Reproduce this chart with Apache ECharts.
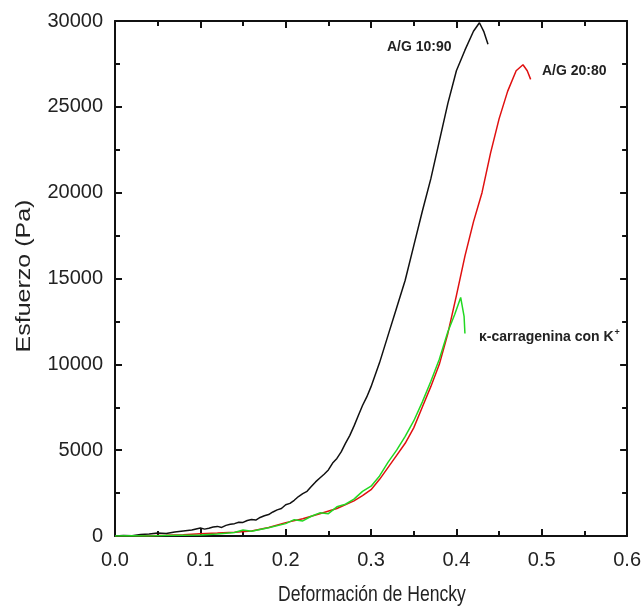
<!DOCTYPE html>
<html>
<head>
<meta charset="utf-8">
<script src="https://cdn.jsdelivr.net/npm/echarts@6/dist/echarts.min.js"></script>
<style>
    html, body { margin: 0; padding: 0; background: #fff; }
    #chart { width: 644px; height: 608px; }
</style>
</head>
<body>
<div id="chart"></div>
<script>
// A/G 10:90 (negro)
var blackStrain = [0, 0.01, 0.02, 0.03, 0.04, 0.05, 0.06, 0.07, 0.08, 0.09,
    0.1, 0.105, 0.11, 0.115, 0.12, 0.125, 0.13, 0.135, 0.14, 0.145, 0.15, 0.155, 0.16, 0.165, 0.17, 0.175, 0.18, 0.185, 0.19, 0.195,
    0.2, 0.205, 0.21, 0.215, 0.22, 0.225, 0.23, 0.235, 0.24, 0.245, 0.25, 0.255, 0.26, 0.265, 0.27, 0.275, 0.28, 0.285, 0.29, 0.295,
    0.3, 0.31, 0.32, 0.33, 0.34, 0.35, 0.36, 0.37, 0.38, 0.39,
    0.4, 0.41, 0.42, 0.427, 0.432, 0.437];
var blackStress = [0, 30, 20, 90, 110, 170, 140, 230, 290, 350,
    470, 400, 450, 520, 560, 500, 620, 680, 720, 800, 790, 900, 960, 930, 1080, 1180, 1250, 1400, 1520, 1600,
    1820, 1900, 2080, 2300, 2470, 2600, 2880, 3150, 3380, 3600, 3850, 4250, 4520, 4900, 5400, 5850, 6400, 7000, 7600, 8100,
    8700, 10100, 11700, 13300, 14900, 16900, 18900, 20800, 23000, 25200,
    27100, 28300, 29400, 29900, 29400, 28650];

// A/G 20:80 (rojo)
var redStrain = [0, 0.02, 0.04, 0.06, 0.08, 0.1, 0.12, 0.14, 0.16, 0.18, 0.2, 0.22, 0.24, 0.26, 0.28, 0.29,
    0.3, 0.31, 0.32, 0.33, 0.34, 0.35, 0.36, 0.37, 0.38, 0.39, 0.4, 0.41, 0.42, 0.43, 0.44, 0.45, 0.46, 0.47, 0.478, 0.483, 0.487];
var redStress = [0, 10, 20, 40, 80, 130, 170, 220, 290, 500, 780, 1000, 1300, 1600, 2050, 2350,
    2700, 3300, 4000, 4700, 5400, 6300, 7500, 8700, 10000, 11800, 14000, 16300, 18300, 20000, 22300, 24300, 25900, 27100, 27450, 27100, 26600];

// κ-carragenina con K+ (verde)
var greenStrain = [0, 0.02, 0.04, 0.06, 0.08, 0.1, 0.12, 0.14, 0.15, 0.16, 0.18, 0.2, 0.21, 0.22, 0.23, 0.24, 0.25, 0.26, 0.27, 0.28, 0.29,
    0.3, 0.31, 0.32, 0.33, 0.34, 0.35, 0.36, 0.37, 0.38, 0.39, 0.398, 0.405, 0.407, 0.409, 0.41];
var greenStress = [0, 10, 0, 30, 50, 60, 120, 200, 350, 280, 480, 720, 950, 880, 1150, 1350, 1300, 1700, 1850, 2150, 2600,
    2900, 3500, 4300, 5000, 5800, 6700, 7800, 9000, 10300, 11900, 12900, 13900, 14000, 12800, 11800];

var xTicks = [0, 0.1, 0.2, 0.3, 0.4, 0.5, 0.6];
var yTicks = [0, 5000, 10000, 15000, 20000, 25000, 30000];

function pairs(xs, ys) {
    var out = [];
    for (var i = 0; i < xs.length; i++) {
        out.push([xs[i], ys[i]]);
    }
    return out;
}

function $ext(a, b) {
    return Object.assign({}, a, b);
}

var myChart = echarts.init(document.getElementById('chart'), null, { renderer: 'canvas' });

var fontFam = '"Liberation Sans", Arial, sans-serif';
var baseX = {
    type: 'value',
    min: xTicks[0],
    max: xTicks[xTicks.length - 1],
    interval: 0.1,
    axisLine: { onZero: false, lineStyle: { color: '#111', width: 2 } },
    axisTick: { inside: true, length: 7, lineStyle: { color: '#111', width: 2 } },
    minorTick: { show: true, splitNumber: 2, length: 5, lineStyle: { color: '#111', width: 2 } },
    splitLine: { show: false }
};
var baseY = {
    type: 'value',
    min: yTicks[0],
    max: yTicks[yTicks.length - 1],
    interval: 5000,
    axisLine: { onZero: false, lineStyle: { color: '#111', width: 2 } },
    axisTick: { inside: true, length: 7, lineStyle: { color: '#111', width: 2 } },
    minorTick: { show: true, splitNumber: 2, length: 5, lineStyle: { color: '#111', width: 2 } },
    splitLine: { show: false }
};

var option = {
    backgroundColor: '#fff',
    animation: false,
    grid: { left: 115, right: 14, top: 21, bottom: 72 },
    xAxis: [
        $ext(baseX, {
            position: 'bottom',
            axisLabel: {
                margin: 14, fontFamily: fontFam, fontSize: 20, color: '#222',
                formatter: function (v) { return v.toFixed(1); }
            }
        }),
        $ext(baseX, { position: 'top', axisLabel: { show: false } })
    ],
    yAxis: [
        $ext(baseY, {
            position: 'left',
            axisLabel: {
                margin: 12, fontFamily: fontFam, fontSize: 20, color: '#222',
                formatter: function (v) { return String(v); }
            }
        }),
        $ext(baseY, { position: 'right', axisLabel: { show: false } })
    ],
    series: [
        {
            name: 'A/G 10:90', type: 'line', showSymbol: false, symbol: 'none',
            lineStyle: { color: '#111', width: 1.5 }, data: pairs(blackStrain, blackStress), z: 3
        },
        {
            name: 'A/G 20:80', type: 'line', showSymbol: false, symbol: 'none',
            lineStyle: { color: '#e01010', width: 1.5 }, data: pairs(redStrain, redStress), z: 2
        },
        {
            name: 'κ-carragenina con K+', type: 'line', showSymbol: false, symbol: 'none',
            lineStyle: { color: '#22d822', width: 1.5 }, data: pairs(greenStrain, greenStress), z: 4
        }
    ],
    graphic: [
        // títulos de los ejes (la imagen original está algo comprimida en horizontal)
        {
            type: 'text', x: 372, y: 595, scaleX: 0.8,
            style: { text: 'Deformación de Hencky', font: '22px ' + fontFam, fill: '#222', align: 'center', verticalAlign: 'middle' }
        },
        {
            type: 'text', x: 25, y: 276, rotation: Math.PI / 2, scaleY: 0.78,
            style: { text: 'Esfuerzo (Pa)', font: '25px ' + fontFam, fill: '#222', align: 'center', verticalAlign: 'middle' }
        },
        // etiquetas de las curvas
        { type: 'text', left: 387, top: 40, style: { text: 'A/G 10:90', font: 'bold 14px ' + fontFam, fill: '#222' } },
        { type: 'text', left: 542, top: 64, style: { text: 'A/G 20:80', font: 'bold 14px ' + fontFam, fill: '#222' } },
        {
            type: 'text', left: 479, top: 328,
            style: {
                text: '{a|κ-carragenina con K}{s|+}',
                rich: {
                    a: { font: 'bold 14px ' + fontFam, fill: '#222' },
                    s: { font: 'bold 9px ' + fontFam, fill: '#222', verticalAlign: 'top', padding: [0, 0, 9, 1] }
                }
            }
        }
    ]
};

myChart.setOption(option);
</script>
</body>
</html>
